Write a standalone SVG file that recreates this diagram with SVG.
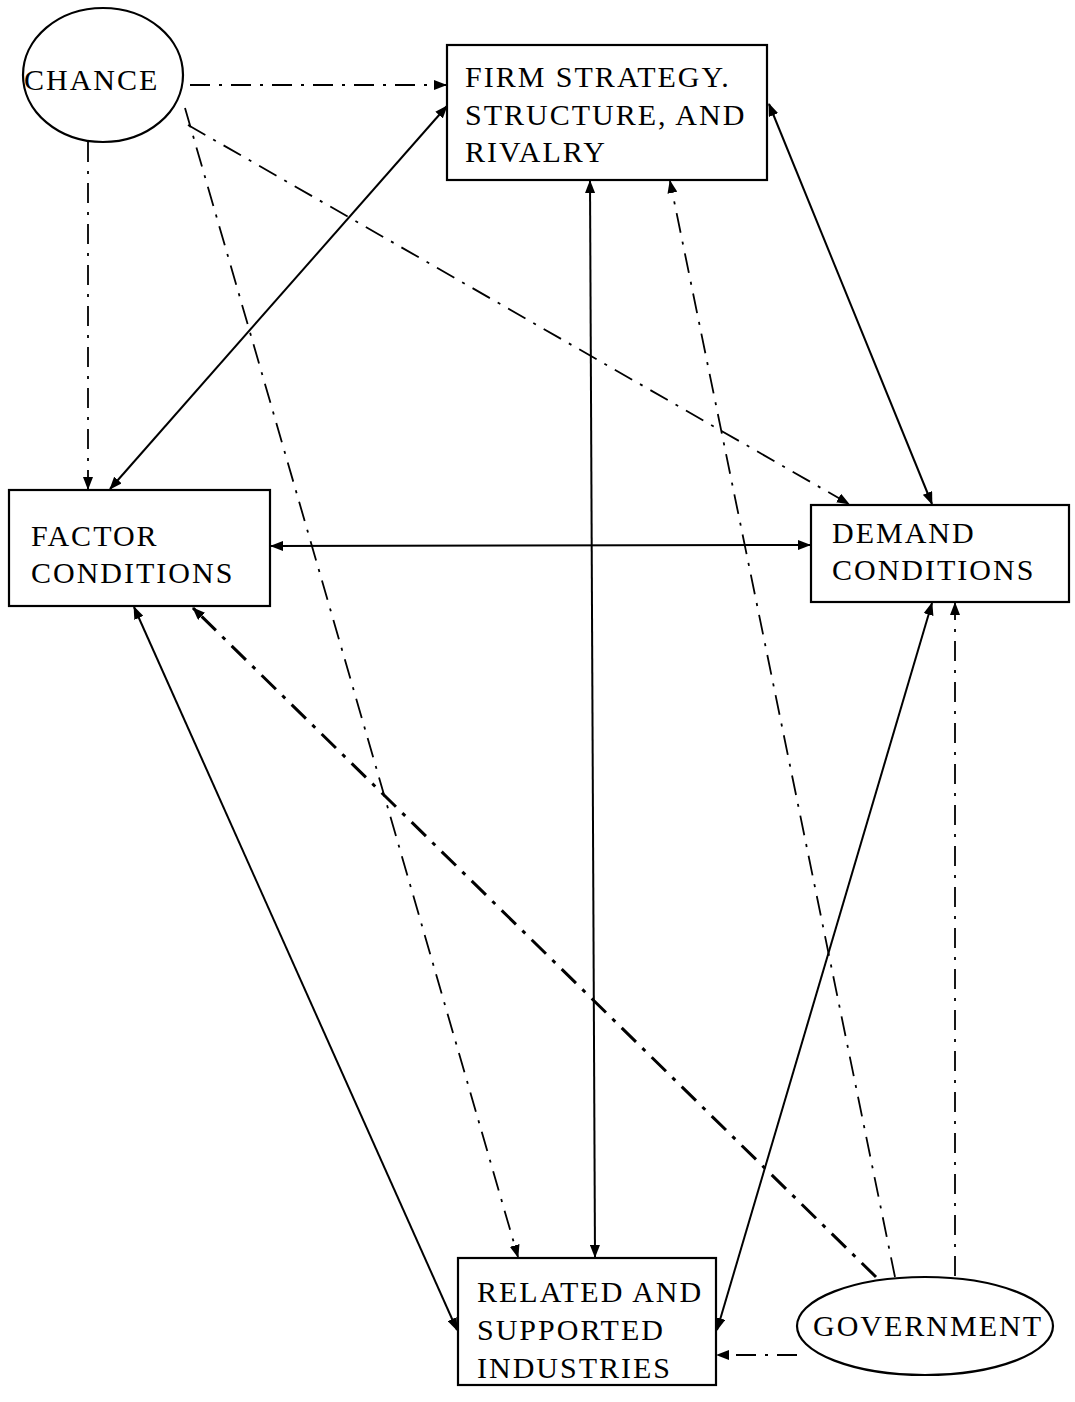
<svg xmlns="http://www.w3.org/2000/svg" width="1075" height="1402" viewBox="0 0 1075 1402">
<style>
.node{fill:#fff;stroke:#000;stroke-width:2.2}
.t{font-family:"Liberation Serif","Times New Roman",serif;font-size:30px;letter-spacing:2px;fill:#000}
.s{fill:none;stroke:#000;stroke-width:2}
.d{fill:none;stroke:#000;stroke-width:1.8;stroke-dasharray:20 9 3 9}
.dt{fill:none;stroke:#000;stroke-width:3;stroke-dasharray:20 9 4 9}
</style>
<defs>
<marker id="ah" markerUnits="userSpaceOnUse" markerWidth="13" markerHeight="10" refX="12" refY="5" orient="auto-start-reverse">
<path d="M0,0 L13,5 L0,10 z" fill="#000"/>
</marker>
</defs>
<rect width="1075" height="1402" fill="#fff"/>
<g id="connectors">
<line class="d" x1="190" y1="85" x2="446" y2="85" marker-end="url(#ah)"/>
<line class="d" x1="88" y1="142" x2="88" y2="489" marker-end="url(#ah)"/>
<line class="d" x1="188" y1="125" x2="849" y2="504" marker-end="url(#ah)"/>
<line class="d" x1="185" y1="108" x2="518" y2="1257" marker-end="url(#ah)"/>
<line class="s" x1="447" y1="106" x2="110" y2="489" marker-start="url(#ah)" marker-end="url(#ah)"/>
<line class="s" x1="590" y1="181" x2="595" y2="1257" marker-start="url(#ah)" marker-end="url(#ah)"/>
<line class="s" x1="769" y1="104" x2="932" y2="504" marker-start="url(#ah)" marker-end="url(#ah)"/>
<line class="s" x1="271" y1="546" x2="810" y2="545" marker-start="url(#ah)" marker-end="url(#ah)"/>
<line class="s" x1="134" y1="607" x2="457" y2="1330" marker-start="url(#ah)" marker-end="url(#ah)"/>
<line class="s" x1="932" y1="603" x2="717" y2="1330" marker-start="url(#ah)" marker-end="url(#ah)"/>
<line class="dt" x1="876" y1="1277" x2="193" y2="608" marker-end="url(#ah)"/>
<line class="d" x1="895" y1="1277" x2="670" y2="181" marker-end="url(#ah)"/>
<line class="d" x1="955" y1="1276" x2="955" y2="603" marker-end="url(#ah)"/>
<line class="d" x1="797" y1="1355" x2="717" y2="1355" marker-end="url(#ah)"/>
</g>
<g id="chance">
<ellipse class="node" cx="103" cy="75" rx="80" ry="67"/>
<text class="t" x="24" y="90">CHANCE</text>
</g>
<g id="firm">
<rect class="node" x="447" y="45" width="320" height="135"/>
<text class="t" x="465" y="87">FIRM STRATEGY.</text>
<text class="t" x="465" y="125">STRUCTURE, AND</text>
<text class="t" x="465" y="162">RIVALRY</text>
</g>
<g id="factor">
<rect class="node" x="9" y="490" width="261" height="116"/>
<text class="t" x="31" y="546">FACTOR</text>
<text class="t" x="31" y="583">CONDITIONS</text>
</g>
<g id="demand">
<rect class="node" x="811" y="505" width="258" height="97"/>
<text class="t" x="832" y="543">DEMAND</text>
<text class="t" x="832" y="580">CONDITIONS</text>
</g>
<g id="related">
<rect class="node" x="458" y="1258" width="258" height="127"/>
<text class="t" x="477" y="1302">RELATED AND</text>
<text class="t" x="477" y="1340">SUPPORTED</text>
<text class="t" x="477" y="1378">INDUSTRIES</text>
</g>
<g id="government">
<ellipse class="node" cx="925" cy="1326" rx="128" ry="49"/>
<text class="t" x="813" y="1336">GOVERNMENT</text>
</g>
</svg>
